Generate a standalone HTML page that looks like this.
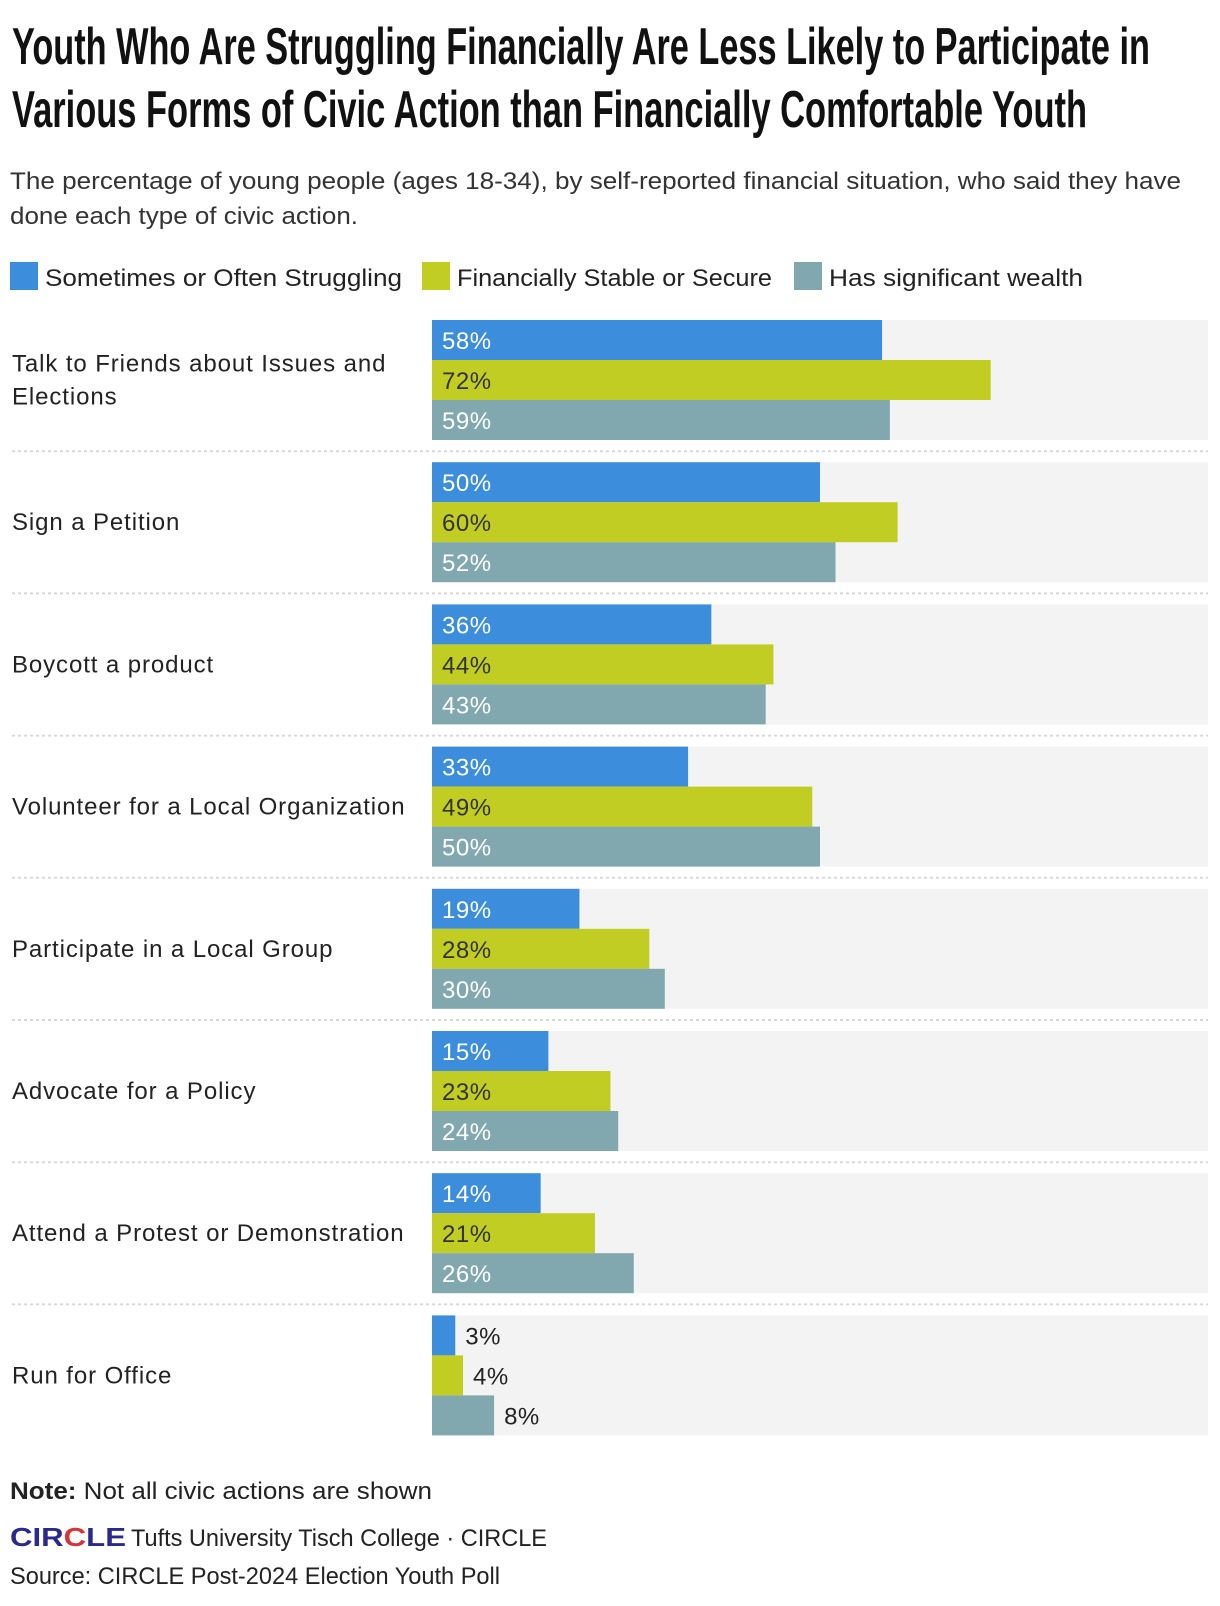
<!DOCTYPE html>
<html><head><meta charset="utf-8"><style>
html,body{margin:0;padding:0;background:#fff;}
svg{display:block;font-family:"Liberation Sans",sans-serif;}
</style></head><body>
<svg id="chart" width="1220" height="1606" viewBox="0 0 1220 1606" xmlns="http://www.w3.org/2000/svg">
<text x="12" y="64" font-size="52" font-weight="bold" fill="#111" textLength="1138" lengthAdjust="spacingAndGlyphs">Youth Who Are Struggling Financially Are Less Likely to Participate in</text>
<text x="12" y="127" font-size="52" font-weight="bold" fill="#111" textLength="1075" lengthAdjust="spacingAndGlyphs">Various Forms of Civic Action than Financially Comfortable Youth</text>
<text x="10" y="189" font-size="24" fill="#333" textLength="1171" lengthAdjust="spacingAndGlyphs">The percentage of young people (ages 18-34), by self-reported financial situation, who said they have</text>
<text x="10" y="224" font-size="24" fill="#333" textLength="348" lengthAdjust="spacingAndGlyphs">done each type of civic action.</text>
<g>
<rect x="10" y="262" width="28" height="28" fill="#3d8ddd"/>
<text x="45" y="286" font-size="24" fill="#222" textLength="357" lengthAdjust="spacingAndGlyphs">Sometimes or Often Struggling</text>
<rect x="422" y="262" width="28" height="28" fill="#c1cd23"/>
<text x="457" y="286" font-size="24" fill="#222" textLength="315" lengthAdjust="spacingAndGlyphs">Financially Stable or Secure</text>
<rect x="794" y="262" width="28" height="28" fill="#80a8ae"/>
<text x="829" y="286" font-size="24" fill="#222" textLength="254" lengthAdjust="spacingAndGlyphs">Has significant wealth</text>
</g>
<g id="plot"></g>
<text x="10" y="1499" font-size="24" fill="#222" textLength="422" lengthAdjust="spacingAndGlyphs"><tspan font-weight="bold">Note:</tspan> Not all civic actions are shown</text>
<text x="10" y="1546" font-size="26" font-weight="bold" fill="#2a2a8c" textLength="116" lengthAdjust="spacingAndGlyphs">CIR<tspan fill="#d3343a">C</tspan>LE</text>
<text x="131" y="1546" font-size="24" fill="#222" textLength="416" lengthAdjust="spacingAndGlyphs">Tufts University Tisch College · CIRCLE</text>
<text x="10" y="1584" font-size="24" fill="#222" textLength="490" lengthAdjust="spacingAndGlyphs">Source: CIRCLE Post-2024 Election Youth Poll</text>
</svg>
<script>
const categories = [["Talk to Friends about Issues and","Elections"],["Sign a Petition"],["Boycott a product"],["Volunteer for a Local Organization"],["Participate in a Local Group"],["Advocate for a Policy"],["Attend a Protest or Demonstration"],["Run for Office"]];
const struggling = [58,50,36,33,19,15,14,3];
const stable = [72,60,44,49,28,23,21,4];
const wealth = [59,52,43,50,30,24,26,8];
const seriesNames = ["struggling","stable","wealth"];
const seriesColors = ["#3d8ddd","#c1cd23","#80a8ae"];
const labelColors = ["#fff","#333","#fff"];

const NS = "http://www.w3.org/2000/svg";
const plot = document.getElementById("plot");
const x0 = 432, plotW = 776, top0 = 320, pitch = 142.2, barH = 40;
const xScale = v => v / 100 * plotW;
const groupY = i => top0 + i * pitch;
function mk(tag, attrs){const e=document.createElementNS(NS,tag);for(const k in attrs)e.setAttribute(k,attrs[k]);plot.appendChild(e);return e;}
const series = [struggling, stable, wealth];
categories.forEach((cat, i) => {
  const gy = groupY(i);
  if (i > 0) {
    const sep = mk("line",{x1:12,x2:1208,y1:gy-11,y2:gy-11,stroke:"#d8d8d8","stroke-width":2,"stroke-dasharray":"3,3"});
    
    
  }
  const bg = mk("rect",{x:x0,y:gy,width:plotW,height:barH*3,fill:"#f3f3f3"});
  
  
  const mid = gy + barH*1.5;
  const n = cat.length;
  cat.forEach((line, j) => {
    const t = mk("text",{x:12,y:mid + 8 + (j-(n-1)/2)*33,"font-size":24,fill:"#222","letter-spacing":"0.9"});
    t.textContent = line;
    
    
  });
  series.forEach((arr, s) => {
    const v = arr[i], w = xScale(v), y = gy + s*barH;
    const r = mk("rect",{x:x0,y:y,width:w,height:barH,fill:seriesColors[s]});
    
    
    const inside = w > 75;
    const t = mk("text",{x: inside ? x0+10 : x0+w+10, y:y+29,"font-size":24,fill: inside ? labelColors[s] : "#222","letter-spacing":"0.5"});
    t.textContent = v + "%";
    
    
  });
});
</script>
</body></html>
